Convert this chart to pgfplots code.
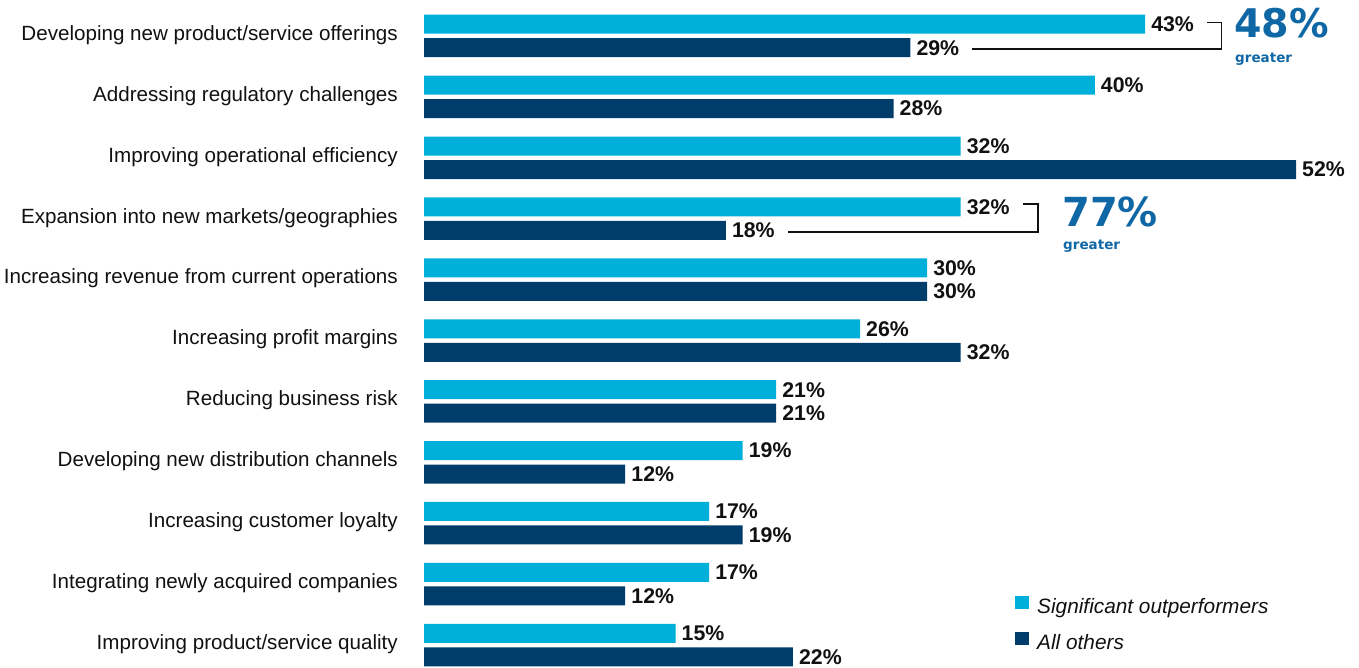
\documentclass[border=0pt]{standalone}
\usepackage{fontspec}
\setmainfont{Liberation Sans}
\newfontfamily\dejavu{DejaVu Sans}
\usepackage{pgfplots}
\pgfplotsset{compat=1.18}
\definecolor{light}{HTML}{00B0DB}
\definecolor{dark}{HTML}{003D6B}
\definecolor{anno}{HTML}{0F67A6}
\definecolor{txt}{HTML}{111111}
\begin{document}
\begin{tikzpicture}[x=1pt,y=1pt]
\useasboundingbox (0,0) rectangle (1359,667);
\begin{axis}[
  at={(424pt,0pt)}, anchor=south west,
  scale only axis, width=872pt, height=667pt,
  xbar, bar width=19pt,
  xmin=0, xmax=52, ymin=-0.361, ymax=10.591,
  hide x axis,
  axis y line*=left, y axis line style={draw=none},
  ytick={0,...,10}, major tick length=0pt,
  yticklabels={Improving product/service quality, Integrating newly acquired companies, Increasing customer loyalty, Developing new distribution channels, Reducing business risk, Increasing profit margins, Increasing revenue from current operations, Expansion into new markets/geographies, Improving operational efficiency, Addressing regulatory challenges, Developing new product/service offerings},
  yticklabel style={anchor=east, inner sep=0pt, xshift=-26pt, yshift=1pt, font=\fontsize{20.6}{21}\selectfont, text=txt},
  point meta=x,
  nodes near coords={\pgfmathprintnumber{\pgfplotspointmeta}\%},
  /pgf/number format/assume math mode=true,
  nodes near coords style={anchor=west, inner sep=0pt, xshift=6pt, text=txt, font=\bfseries\fontsize{21.3}{22}\selectfont},
  legend image code/.code={\path[#1,draw=none] (0pt,-1pt) rectangle (14pt,12pt);},
  legend cell align=left,
  legend style={at={(axis description cs:0.6778,0.1064)}, anchor=north west, draw=none, fill=none, inner sep=0pt, row sep=15pt,
    nodes={inner sep=0pt, text height=14pt, text depth=4pt},
    /tikz/every odd column/.append style={column sep=8pt},
    font=\itshape\fontsize{20.8}{21}\selectfont, text=txt},
]
\addplot[fill=light, draw=none, bar shift=11.75pt] coordinates {(43,10) (40,9) (32,8) (32,7) (30,6) (26,5) (21,4) (19,3) (17,2) (17,1) (15,0)};
\addplot[fill=dark, draw=none, bar shift=-11.75pt] coordinates {(29,10) (28,9) (52,8) (18,7) (30,6) (32,5) (21,4) (12,3) (19,2) (12,1) (22,0)};
\legend{Significant outperformers, All others}
\end{axis}
% annotations
\draw[line width=1.3pt, color=txt] (972,618) -- (1221.5,618) -- (1221.5,644.5) -- (1207,644.5);
\draw[line width=1.3pt, color=txt] (788,435) -- (1038,435) -- (1038,463) -- (1023,463);
\node[anchor=base west, inner sep=0pt, text=anno, font=\dejavu\bfseries\fontsize{39.5}{40}\selectfont] at (1234,629.5) {48\%};
\node[anchor=base west, inner sep=0pt, text=anno, font=\dejavu\bfseries\fontsize{13.5}{14}\selectfont] at (1235,604) {greater};
\node[anchor=base west, inner sep=0pt, text=anno, font=\dejavu\bfseries\fontsize{40}{40}\selectfont] at (1062,440) {77\%};
\node[anchor=base west, inner sep=0pt, text=anno, font=\dejavu\bfseries\fontsize{13.5}{14}\selectfont] at (1063,417) {greater};
\end{tikzpicture}
\end{document}
